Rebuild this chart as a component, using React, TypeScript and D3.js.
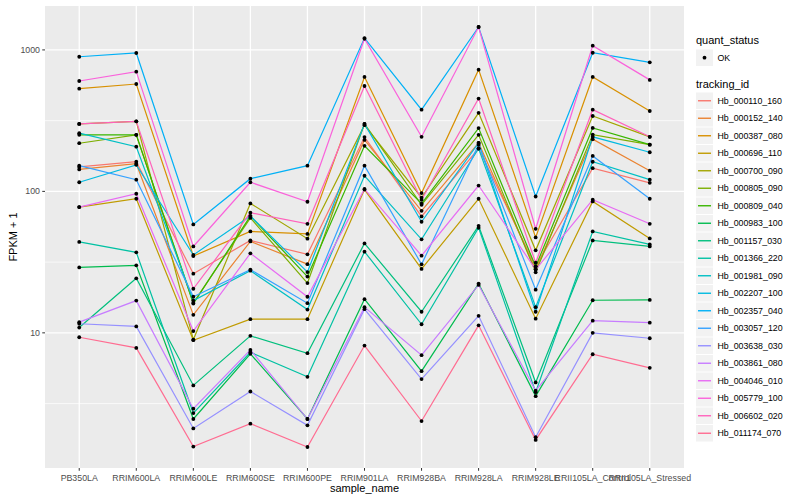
import React from 'react';
import * as d3 from 'd3';

const SAMPLES = [
  'PB350LA', 'RRIM600LA', 'RRIM600LE', 'RRIM600SE', 'RRIM600PE', 'RRIM901LA',
  'RRIM928BA', 'RRIM928LA', 'RRIM928LE', 'RRII105LA_Control', 'RRII105LA_Stressed',
];

const TRACKING_IDS = [
  'Hb_000110_160', 'Hb_000152_140', 'Hb_000387_080', 'Hb_000696_110', 'Hb_000700_090',
  'Hb_000805_090', 'Hb_000809_040', 'Hb_000983_100', 'Hb_001157_030', 'Hb_001366_220',
  'Hb_001981_090', 'Hb_002207_100', 'Hb_002357_040', 'Hb_003057_120', 'Hb_003638_030',
  'Hb_003861_080', 'Hb_004046_010', 'Hb_005779_100', 'Hb_006602_020', 'Hb_011174_070',
];

// ggplot hue palette, 20 levels
const COLORS = [
  '#F8766D', '#EA8331', '#D89000', '#C09B00', '#A3A500', '#7CAE00', '#39B600', '#00BB4E',
  '#00BF7D', '#00C1A3', '#00BFC4', '#00BAE0', '#00B0F6', '#35A2FF', '#9590FF', '#C77CFF',
  '#E76BF3', '#FA62DB', '#FF62BC', '#FF6C91',
];

// FPKM + 1, one value per sample
const HB_000110_160 = [149, 162, 26.2, 45.0, 35.9, 242, 66.5, 201, 29.4, 146, 115];
const HB_000152_140 = [143, 157, 13.4, 44.3, 30.6, 231, 72.9, 220, 28.0, 234, 140];
const HB_000387_080 = [532, 574, 34.9, 52.1, 50.0, 644, 97.3, 725, 47.3, 644, 370];
const HB_000696_110 = [77.4, 88.7, 8.87, 12.5, 12.5, 103, 28.3, 88.7, 12.6, 84.9, 46.5];
const HB_000700_090 = [300, 313, 8.97, 82.2, 46.3, 294, 90.2, 359, 38.3, 341, 243];
const HB_000805_090 = [219, 251, 16.3, 64.9, 22.5, 300, 80.4, 251, 26.8, 252, 214];
const HB_000809_040 = [251, 251, 16.1, 66.9, 25.0, 210, 82.0, 280, 29.4, 281, 214];
const HB_000983_100 = [29.0, 30.0, 2.46, 7.11, 2.46, 17.3, 5.36, 22.3, 3.57, 17.0, 17.1];
const HB_001157_030 = [10.9, 24.3, 4.25, 9.53, 7.18, 42.9, 14.1, 57.1, 4.46, 45.0, 40.8];
const HB_001366_220 = [43.9, 37.1, 2.71, 7.29, 4.89, 37.5, 11.5, 55.3, 3.81, 52.1, 42.2];
const HB_001981_090 = [258, 207, 16.9, 27.5, 14.6, 129, 45.8, 201, 15.2, 162, 121];
const HB_002207_100 = [116, 154, 35.5, 66.9, 26.9, 300, 61.0, 220, 14.1, 243, 189];
const HB_002357_040 = [895, 951, 58.4, 123, 152, 1213, 378, 1452, 92.0, 955, 817];
const HB_003057_120 = [152, 121, 18.0, 28.0, 16.2, 152, 30.5, 214, 20.2, 178, 88.7];
const HB_003638_030 = [11.6, 11.1, 2.11, 3.85, 2.22, 14.7, 4.71, 13.2, 1.83, 10.0, 9.16];
const HB_003861_080 = [11.9, 16.9, 2.91, 7.58, 2.46, 15.2, 6.95, 21.8, 3.9, 12.2, 11.8];
const HB_004046_010 = [77.4, 96.2, 10.3, 36.5, 18.0, 104, 35.1, 110, 28.0, 87.3, 59.0];
const HB_005779_100 = [603, 702, 40.8, 116, 84.5, 1199, 243, 1452, 54.4, 1071, 614];
const HB_006602_020 = [300, 313, 20.5, 70.6, 59.0, 556, 87.3, 453, 31.3, 378, 243];
const HB_011174_070 = [9.31, 7.83, 1.57, 2.28, 1.56, 8.13, 2.38, 11.3, 1.75, 7.06, 5.66];

const SERIES_VALUES = [
  HB_000110_160, HB_000152_140, HB_000387_080, HB_000696_110, HB_000700_090,
  HB_000805_090, HB_000809_040, HB_000983_100, HB_001157_030, HB_001366_220,
  HB_001981_090, HB_002207_100, HB_002357_040, HB_003057_120, HB_003638_030,
  HB_003861_080, HB_004046_010, HB_005779_100, HB_006602_020, HB_011174_070,
];

const Y_MAJOR = [10, 100, 1000];

const FONT = '"Liberation Sans", Arial, Helvetica, sans-serif';

export default function App() {
  const width = 800;
  const height = 500;
  const panel = { left: 45, right: 684, top: 6, bottom: 468 };

  const x = d3.scalePoint<string>()
    .domain(SAMPLES)
    .range([panel.left, panel.right])
    .padding(0.6);

  // log scale with ggplot's 5% expansion
  const all = SERIES_VALUES.flat();
  const lo = Math.log10(d3.min(all)!);
  const hi = Math.log10(d3.max(all)!);
  const pad = (hi - lo) * 0.05;
  const y = d3.scaleLog()
    .domain([Math.pow(10, lo - pad), Math.pow(10, hi + pad)])
    .range([panel.bottom, panel.top]);

  const yMinor = [0.5, 1.5, 2.5, 3.5]
    .map(e => Math.pow(10, e))
    .filter(v => v > y.domain()[0] && v < y.domain()[1]);

  const line = d3.line<[string, number]>()
    .x(d => x(d[0])!)
    .y(d => y(d[1]));

  const series = SERIES_VALUES.map((vals, i) => ({
    id: TRACKING_IDS[i],
    color: COLORS[i],
    pts: SAMPLES.map((s, j) => [s, vals[j]] as [string, number]),
  }));

  const legendX = 696;
  const keyW = 17;
  const keyStart = 92.5;
  const keyStep = 17.5;

  return (
    <div style={{ position: 'absolute', left: 0, top: 0 }}>
      <svg width={width} height={height} style={{ display: 'block', fontFamily: FONT }}>
        <rect x={0} y={0} width={width} height={height} fill="#ffffff" />

        {/* panel */}
        <rect x={panel.left} y={panel.top} width={panel.right - panel.left}
          height={panel.bottom - panel.top} fill="#EBEBEB" />
        {yMinor.map(v => (
          <line key={'mn' + v} x1={panel.left} x2={panel.right} y1={y(v)} y2={y(v)}
            stroke="#ffffff" strokeWidth={0.7} />
        ))}
        {Y_MAJOR.map(v => (
          <line key={'mj' + v} x1={panel.left} x2={panel.right} y1={y(v)} y2={y(v)}
            stroke="#ffffff" strokeWidth={1.3} />
        ))}
        {SAMPLES.map(s => (
          <line key={'vx' + s} x1={x(s)} x2={x(s)} y1={panel.top} y2={panel.bottom}
            stroke="#ffffff" strokeWidth={1.3} />
        ))}

        {/* lines */}
        {series.map(s => (
          <path key={s.id} d={line(s.pts)!} fill="none" stroke={s.color} strokeWidth={1.2} />
        ))}
        {/* points */}
        {series.map(s => s.pts.map(p => (
          <circle key={s.id + p[0]} cx={x(p[0])} cy={y(p[1])} r={1.9} fill="#000000" />
        )))}

        {/* y axis */}
        {Y_MAJOR.map(v => (
          <g key={'yt' + v}>
            <line x1={panel.left - 2.75} x2={panel.left} y1={y(v)} y2={y(v)}
              stroke="#333333" strokeWidth={1} />
            <text x={panel.left - 5} y={y(v)} dy="0.35em" textAnchor="end"
              fontSize={8.8} fill="#4D4D4D">{v}</text>
          </g>
        ))}
        <text transform={`translate(13,${(panel.top + panel.bottom) / 2}) rotate(-90)`}
          textAnchor="middle" dy="0.35em" fontSize={11} fill="#000000">FPKM + 1</text>

        {/* x axis */}
        {SAMPLES.map(s => (
          <g key={'xt' + s}>
            <line x1={x(s)} x2={x(s)} y1={panel.bottom} y2={panel.bottom + 2.75}
              stroke="#333333" strokeWidth={1} />
            <text x={x(s)} y={panel.bottom + 12.5} textAnchor="middle"
              fontSize={8.8} fill="#4D4D4D">{s}</text>
          </g>
        ))}
        <text x={(panel.left + panel.right) / 2} y={492} textAnchor="middle"
          fontSize={11} fill="#000000">sample_name</text>

        {/* legend: quant_status */}
        <text x={legendX} y={44} fontSize={11} fill="#000000">quant_status</text>
        <rect x={legendX} y={49.5} width={keyW} height={16.5} fill="#F2F2F2" />
        <circle cx={legendX + keyW / 2} cy={57.7} r={1.9} fill="#000000" />
        <text x={legendX + keyW + 4.5} y={57.7} dy="0.35em" fontSize={8.8} fill="#000000">OK</text>

        {/* legend: tracking_id */}
        <text x={legendX} y={88} fontSize={11} fill="#000000">tracking_id</text>
        {series.map((s, i) => {
          const ky = keyStart + i * keyStep;
          return (
            <g key={'lg' + s.id}>
              <rect x={legendX} y={ky} width={keyW} height={16.5} fill="#F2F2F2" />
              <line x1={legendX + 2} x2={legendX + keyW - 2} y1={ky + 8.25} y2={ky + 8.25}
                stroke={s.color} strokeWidth={1.4} />
              <text x={legendX + keyW + 4.5} y={ky + 8.25} dy="0.35em" fontSize={8.8}
                fill="#000000">{s.id}</text>
            </g>
          );
        })}
      </svg>
    </div>
  );
}
